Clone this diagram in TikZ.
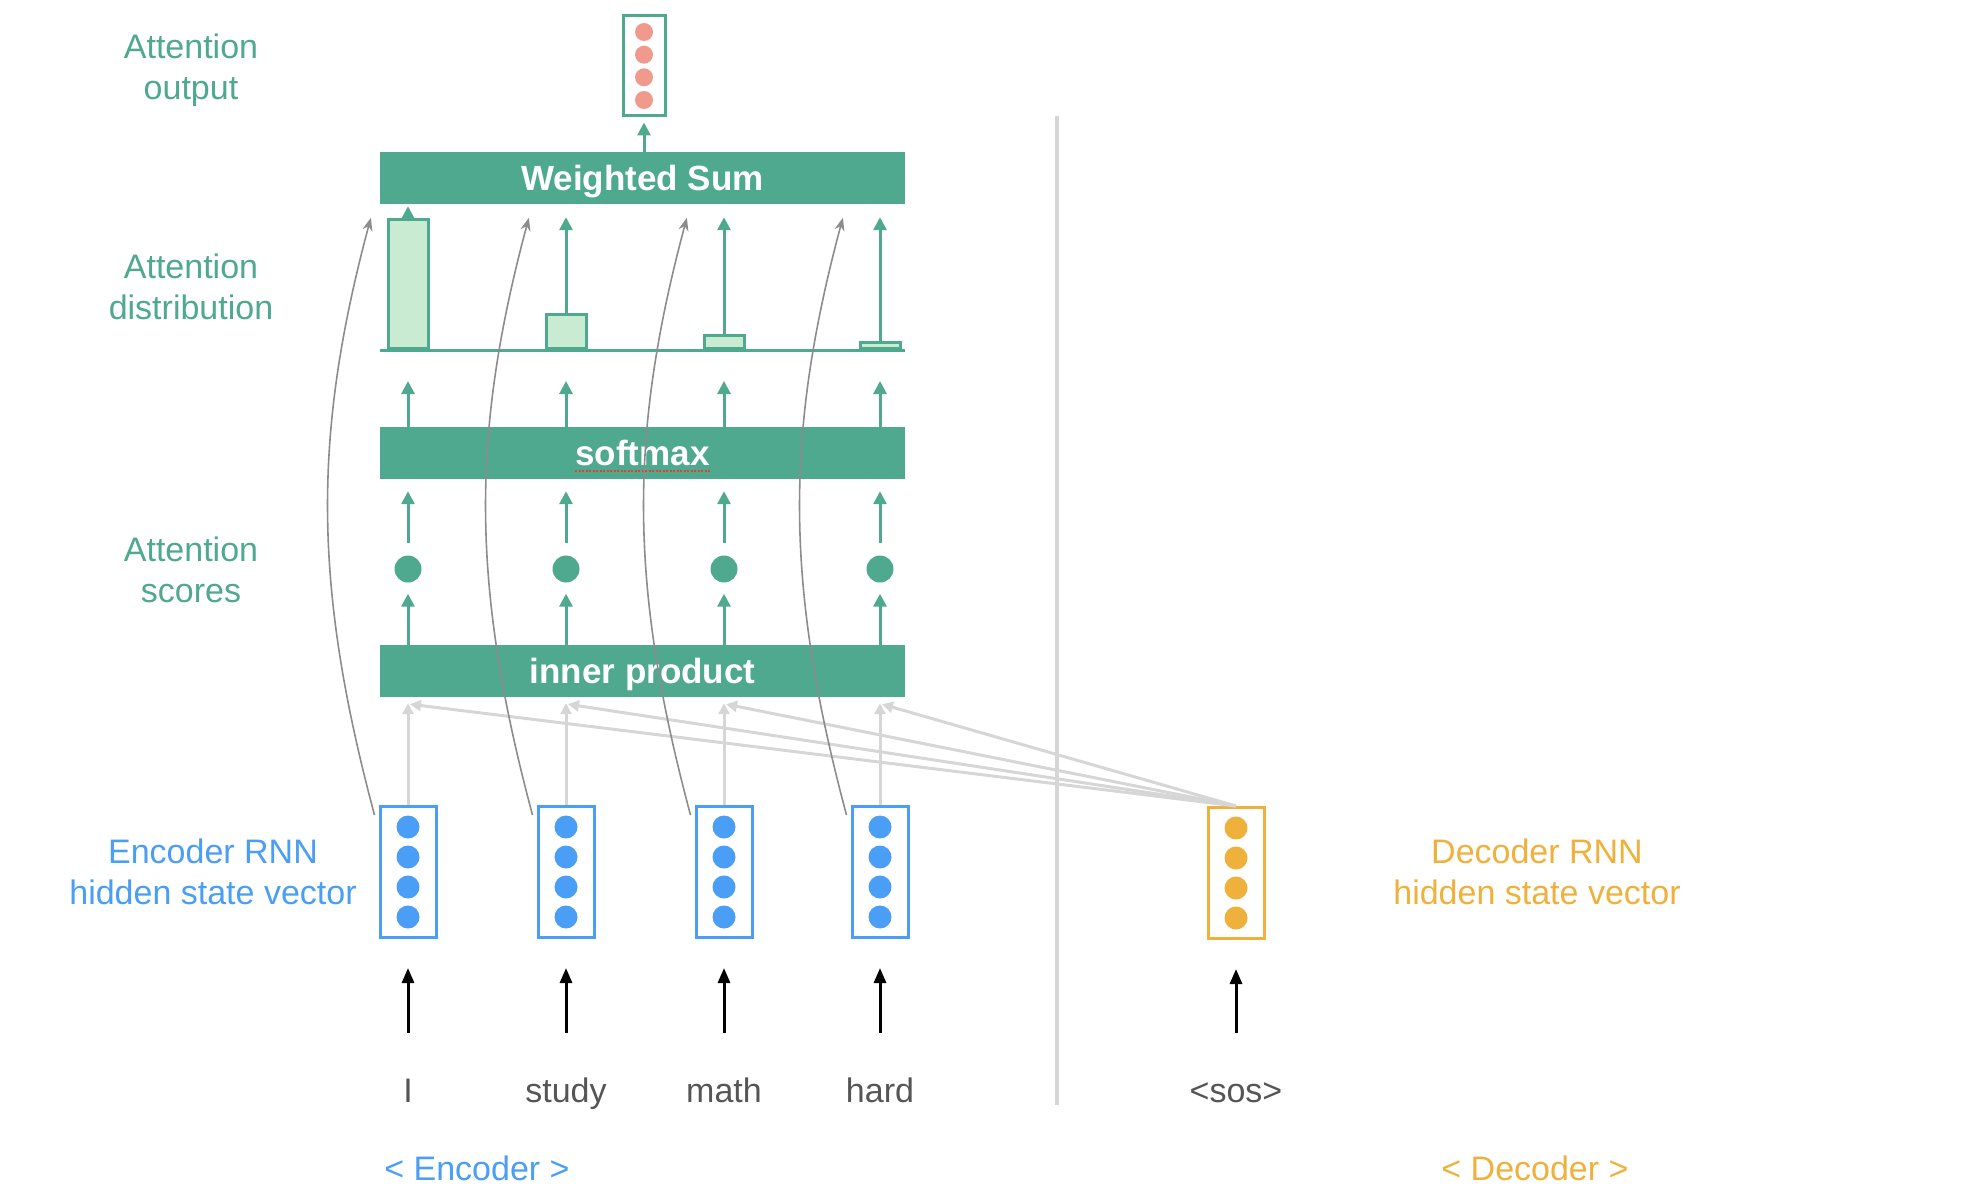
\documentclass[tikz,border=0pt]{standalone}
\usepackage{fontspec}
\setmainfont{Liberation Sans}
\usetikzlibrary{arrows.meta,calc}
\definecolor{attgreen}{RGB}{78,169,143}
\definecolor{barfill}{RGB}{200,235,210}
\definecolor{encblue}{RGB}{74,158,245}
\definecolor{decorange}{RGB}{240,177,60}
\definecolor{outsalmon}{RGB}{240,154,142}
\definecolor{curvegray}{RGB}{140,140,140}
\definecolor{lightgray}{RGB}{214,214,214}
\definecolor{wordgray}{RGB}{85,85,85}
\definecolor{spellred}{RGB}{230,60,50}
\tikzset{
  layerbox/.style={fill=attgreen, text=white, inner sep=0pt,
    minimum width=525pt, minimum height=52pt, text height=25pt, text depth=0pt,
    font=\fontsize{35}{40}\selectfont\bfseries},
  vecbox/.style={draw, line width=3pt, inner sep=0pt,
    minimum width=56pt, minimum height=131pt},
  barbox/.style={draw=attgreen, fill=barfill, line width=3pt, inner sep=0pt,
    minimum width=40pt},
  scoredot/.style={circle, fill=attgreen, inner sep=0pt, minimum size=27pt},
  sidetext/.style={align=center, font=\fontsize{34}{41}\selectfont},
  wordtext/.style={text=wordgray, inner sep=0pt, text height=25pt, text depth=7pt,
    font=\fontsize{34}{41}\selectfont},
  greenarrow/.style={attgreen, line width=3pt, -{Triangle[width=13pt,length=13pt]}},
  feedarrow/.style={lightgray, line width=3pt, -{Triangle[width=11pt,length=11pt]}},
  inarrow/.style={black, line width=3pt, -{Triangle[width=12pt,length=15pt]}},
  softcurve/.style={curvegray, line width=1.6pt, -{Stealth[width=10pt,length=13pt]}},
}
\begin{document}
\begin{tikzpicture}[x=1pt,y=-1pt]
\useasboundingbox (0,0) rectangle (1980,1204);
% divider between encoder and decoder
\draw[lightgray, line width=3.5pt] (1057,116) -- (1057,1105);
% side labels
\node[sidetext, text=attgreen] (outlbl) at (191,70) {Attention\\output};
\node[sidetext, text=attgreen] (distlbl) at (191,287) {Attention\\distribution};
\node[sidetext, text=attgreen] (scorelbl) at (191,570) {Attention\\scores};
\node[sidetext, text=encblue] (enclbl) at (213,872) {Encoder RNN\\hidden state vector};
\node[sidetext, text=decorange] (declbl) at (1537,872) {Decoder RNN\\hidden state vector};
\node[sidetext, text=encblue] (encname) at (477,1168) {< Encoder >};
\node[sidetext, text=decorange] (decname) at (1535,1168) {< Decoder >};
% decoder state
\node[vecbox, draw=decorange] (dec) at (1236,873) {};
\foreach \k in {-45,-15,15,45}
  \fill[decorange] ($(dec.center)+(0,\k)$) circle (11.5pt);
\node[wordtext, anchor=base] (sos) at (1236,1102) {<sos>};
\draw[inarrow, shorten <=44pt, shorten >=29pt] (sos.north) -- (dec.south);
% green layers
\node[layerbox] (wsum) at (642.5,178) {Weighted Sum};
\node[layerbox] (smax) at (642.5,453) {};
\node[layerbox, fill=none, minimum width=0pt] (smaxtxt) at (smax) {softmax};
\draw[spellred, line width=2pt, dash pattern=on 2pt off 1.5pt] ([yshift=-5pt]smaxtxt.base west) -- ([yshift=-5pt]smaxtxt.base east);
\node[layerbox] (inner) at (642.5,671) {inner product};
% attention output
\node[vecbox, draw=attgreen, minimum width=42pt, minimum height=100pt] (out) at (644,66) {};
\foreach \k in {-34,-11.3,11.3,34}
  \fill[outsalmon] ($(out.center)+(0,\k)$) circle (9pt);
\draw[greenarrow, shorten >=5pt] (wsum.north -| out) -- (out.south);
% distribution axis
\coordinate (axisL) at (380,350);
\coordinate (axisR) at (905,350);
\draw[attgreen, line width=3pt] (axisL) -- (axisR);
% one column per encoder step
\foreach \i/\x/\h/\s/\w in {1/408/129/2/I, 2/566/34/13/study, 3/724/13/13/math, 4/880/6/13/hard}{
  \draw[feedarrow] (dec.north) -- ([xshift=2pt,yshift=-7pt]inner.south -| \x,0);
  \node[vecbox, draw=encblue] (enc\i) at (\x,872) {};
  \foreach \k in {-45,-15,15,45}
    \fill[encblue] ($(enc\i.center)+(0,\k)$) circle (11.5pt);
  \draw[feedarrow, shorten >=6pt] (enc\i.north) -- (inner.south -| enc\i);
  \node[wordtext, anchor=base] (word\i) at (\x,1102) {\w};
  \draw[inarrow, shorten <=44pt, shorten >=29pt] (word\i.north) -- (enc\i.south);
  \node[scoredot] (dot\i) at (\x,569) {};
  \draw[greenarrow, shorten >=11pt] (inner.north -| dot\i) -- (dot\i.south);
  \draw[greenarrow, shorten <=12pt, shorten >=12pt] (dot\i.north) -- (smax.south -| dot\i);
  \node[barbox, minimum height=\h pt, anchor=south] (bar\i) at (\x,350) {};
  \draw[greenarrow, shorten >=31pt] (smax.north -| bar\i) -- (bar\i.south);
  \draw[greenarrow, shorten >=\s pt] (bar\i.north) -- (wsum.south -| bar\i);
}
% encoder states feeding the weighted sum
\foreach \i in {1,...,4}{
  \coordinate (cfrom\i) at ($(enc\i.north west)+(-4,10)$);
  \draw[softcurve, shorten >=14pt] (cfrom\i) to[bend left=15] (cfrom\i |- wsum.south);
}
\end{tikzpicture}
\end{document}
